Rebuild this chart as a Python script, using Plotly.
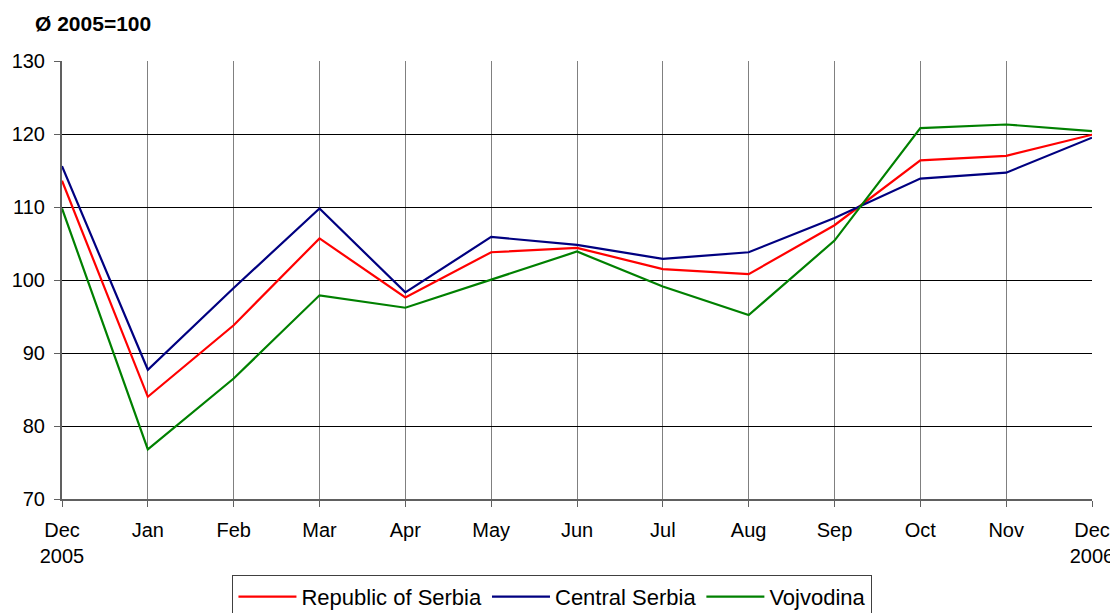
import plotly.graph_objects as go

categories = ["Dec<br>2005", "Jan", "Feb", "Mar", "Apr", "May", "Jun",
              "Jul", "Aug", "Sep", "Oct", "Nov", "Dec<br>2006"]
republic = [113.6, 84.0, 93.8, 105.7, 97.6, 103.8, 104.4, 101.5, 100.8, 107.5, 116.4, 117.0, 119.9]
central = [115.6, 87.7, 98.9, 109.8, 98.3, 105.9, 104.8, 102.9, 103.8, 108.5, 113.9, 114.7, 119.5]
vojvodina = [109.8, 76.8, 86.5, 97.9, 96.2, 100.0, 103.9, 99.1, 95.2, 105.4, 120.8, 121.3, 120.4]
y_ticks = [70, 80, 90, 100, 110, 120, 130]

x = list(range(len(categories)))

fig = go.Figure()
for name, vals, color in [("Republic of Serbia", republic, "#FF0000"),
                          ("Central Serbia", central, "#000080"),
                          ("Vojvodina", vojvodina, "#008000")]:
    fig.add_trace(go.Scatter(x=x, y=vals, mode="lines", name=name,
                             line=dict(color=color, width=2.2)))

# page body has an 8px margin; figure is sized to compensate
fig.update_layout(
    width=1110, height=605,
    margin=dict(l=54, r=26, t=53, b=114, autoexpand=False),
    paper_bgcolor="white", plot_bgcolor="white",
    font=dict(family="Liberation Sans, Arial", size=20, color="black"),
    showlegend=True,
    legend=dict(orientation="h", xref="container", yref="container",
                x=0.4905, xanchor="center", y=0.063, yanchor="top",
                bordercolor="#404040", borderwidth=1, font=dict(size=22),
                itemwidth=58, tracegroupgap=0),
    xaxis=dict(range=[0, 12], tickmode="array", tickvals=x, ticktext=categories,
               showgrid=True, gridcolor="#808080", gridwidth=1,
               showline=True, linecolor="#606060", linewidth=2,
               ticks="outside", ticklen=6, tickcolor="#606060",
               zeroline=False, automargin=False, tickfont=dict(size=20),
               ticklabelstandoff=6),
    yaxis=dict(range=[70, 130], tickmode="array", tickvals=y_ticks,
               showgrid=True, gridcolor="black", gridwidth=1,
               showline=True, linecolor="#606060", linewidth=2,
               ticks="outside", ticklen=6, tickcolor="#606060",
               zeroline=False, automargin=False, tickfont=dict(size=20),
               ticklabelstandoff=5),
    annotations=[dict(text="<b>Ø 2005=100</b>", xref="paper", yref="paper",
                      x=-0.028, y=1.0845, xanchor="left", yanchor="middle",
                      showarrow=False, font=dict(size=21))],
)

fig.write_html("out.html")
